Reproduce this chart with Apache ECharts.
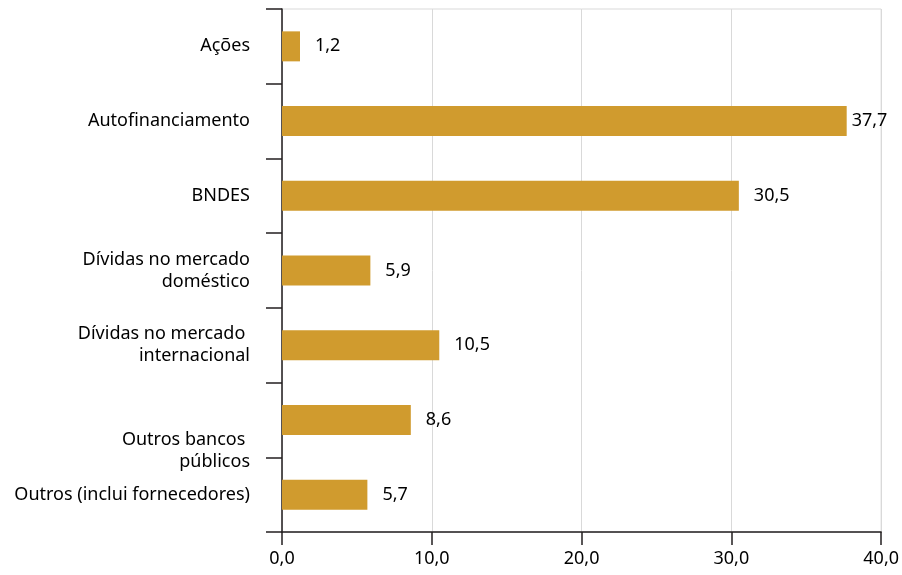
<!DOCTYPE html>
<html>
<head>
<meta charset="utf-8">
<script src="https://cdn.jsdelivr.net/npm/echarts@6/dist/echarts.min.js"></script>
<style>
  html, body { margin: 0; padding: 0; background: #fff; }
  #chart { width: 902px; height: 575px; }
</style>
</head>
<body>
<div id="chart"></div>
<script>
// Fontes de financiamento (%)
const categories = [
  'Ações',
  'Autofinanciamento',
  'BNDES',
  'Dívidas no mercado\ndoméstico',
  'Dívidas no mercado \ninternacional',
  'Outros bancos \npúblicos',
  'Outros (inclui fornecedores)'
];
const values = [1.2, 37.7, 30.5, 5.9, 10.5, 8.6, 5.7];
const xTicks = [0, 10, 20, 30, 40];

const fmt = v => Number(v).toFixed(1).replace('.', ',');
const font = '"Noto Sans", "Open Sans", sans-serif';

// the "Outros bancos públicos" label sits lower than its tick centre
const yLabel = v => {
  const lines = v.split('\n').map(l => '{t|' + l + '}');
  if (v.startsWith('Outros bancos')) return '{s| }\n' + lines.join('\n');
  return lines.join('\n');
};

const barData = values.map(v => {
  if (v > 35) return { value: v, label: { distance: 5 } };
  return v;
});

const chart = echarts.init(document.getElementById('chart'));
chart.setOption({
  animation: false,
  grid: {
    left: 282, right: 18, top: 9, bottom: 43,
    show: true, borderColor: '#d9d9d9', borderWidth: 1,
    containLabel: false
  },
  xAxis: {
    type: 'value',
    min: xTicks[0], max: xTicks[xTicks.length - 1], interval: 10,
    axisLine: { show: true, lineStyle: { color: '#231f20', width: 1.5 } },
    axisTick: { show: true, length: 13, lineStyle: { color: '#231f20', width: 1.5 } },
    axisLabel: {
      formatter: fmt, color: '#000', fontSize: 18, fontFamily: font, margin: 18
    },
    splitLine: { show: true, lineStyle: { color: '#d9d9d9', width: 1 } }
  },
  yAxis: {
    type: 'category',
    inverse: true,
    data: categories,
    axisLine: { show: true, lineStyle: { color: '#231f20', width: 1.5 } },
    axisTick: { show: true, length: 16, lineStyle: { color: '#231f20', width: 1.5 } },
    axisLabel: {
      formatter: yLabel,
      color: '#000', fontSize: 18, fontFamily: font, margin: 32, align: 'right',
      rich: {
        t: { color: '#000', fontSize: 18, fontFamily: font, lineHeight: 22 },
        s: { fontSize: 10, lineHeight: 62 }
      }
    },
    splitLine: { show: false }
  },
  series: [{
    type: 'bar',
    data: barData,
    barWidth: 30,
    itemStyle: { color: '#d09b2e' },
    label: {
      show: true, position: 'right', distance: 15,
      formatter: p => fmt(p.value),
      color: '#000', fontSize: 18, fontFamily: font
    }
  }]
});
</script>
</body>
</html>
